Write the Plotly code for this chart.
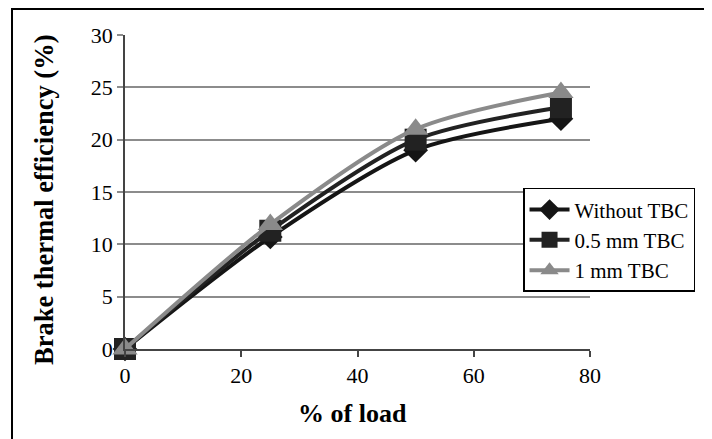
import plotly.graph_objects as go

load = [0, 25, 50, 75]
without_tbc = [0, 10.7, 19.0, 22.0]
tbc_05 = [0, 11.3, 20.0, 23.1]
tbc_1 = [0, 11.9, 21.0, 24.5]
names = ["Without TBC", "0.5 mm TBC", "1 mm TBC"]
x_ticks = [0, 20, 40, 60, 80]
y_ticks = [0, 5, 10, 15, 20, 25, 30]

serif = "Liberation Serif"

fig = go.Figure()
styles = [
    (without_tbc, "#151515", "diamond", 19),
    (tbc_05, "#222222", "square", 22),
    (tbc_1, "#8a8a8a", "triangle-up", 22),
]
for (vals, col, sym, sz), nm in zip(styles, names):
    fig.add_trace(go.Scatter(
        x=load, y=vals, name=nm, mode="lines+markers",
        line=dict(color=col, width=4, shape="spline", smoothing=0.8),
        marker=dict(symbol=sym, size=sz, color=col),
        cliponaxis=False,
    ))

fig.update_layout(
    width=712, height=439,
    margin=dict(l=117, r=130, t=27, b=98),
    paper_bgcolor="white", plot_bgcolor="white",
    font=dict(family=serif, color="black"),
    showlegend=True,
    legend=dict(
        x=0.856, y=0.513, xanchor="left", yanchor="top",
        bgcolor="white", bordercolor="black", borderwidth=1.5,
        font=dict(family=serif, size=21, color="black"),
        tracegroupgap=0, itemwidth=40,
        entrywidth=150, entrywidthmode="pixels",
    ),
    xaxis=dict(
        range=[0, 80], tickvals=x_ticks, showgrid=False, zeroline=False,
        showline=True, linecolor="#444", linewidth=1.5,
        ticks="outside", ticklen=6, tickcolor="#444", tickwidth=1.5,
        tickfont=dict(family=serif, size=22, color="black"),
    ),
    yaxis=dict(
        range=[0, 30], tickvals=y_ticks, showgrid=True, gridcolor="#8c8c8c",
        gridwidth=1.5, zeroline=False,
        showline=True, linecolor="#444", linewidth=1.5,
        ticks="outside", ticklen=6, tickcolor="#8c8c8c", tickwidth=1.5,
        tickfont=dict(family=serif, size=22, color="black"),
    ),
    annotations=[
        dict(text="<b>% of load</b>", xref="paper", yref="paper",
             x=0.49, y=-0.204, xanchor="center", yanchor="middle",
             showarrow=False, font=dict(family=serif, size=26, color="black")),
        dict(text="<b>Brake thermal efficiency (%)</b>", xref="paper", yref="paper",
             x=-0.174, y=0.475, xanchor="center", yanchor="middle", textangle=-90,
             showarrow=False, font=dict(family=serif, size=26.5, color="black")),
    ],
    shapes=[
        dict(type="rect", xref="paper", yref="paper",
             x0=-0.243, x1=1.30, y0=-0.35, y1=1.083,
             line=dict(color="black", width=2), layer="below"),
    ],
)

fig.write_html("out.html")
